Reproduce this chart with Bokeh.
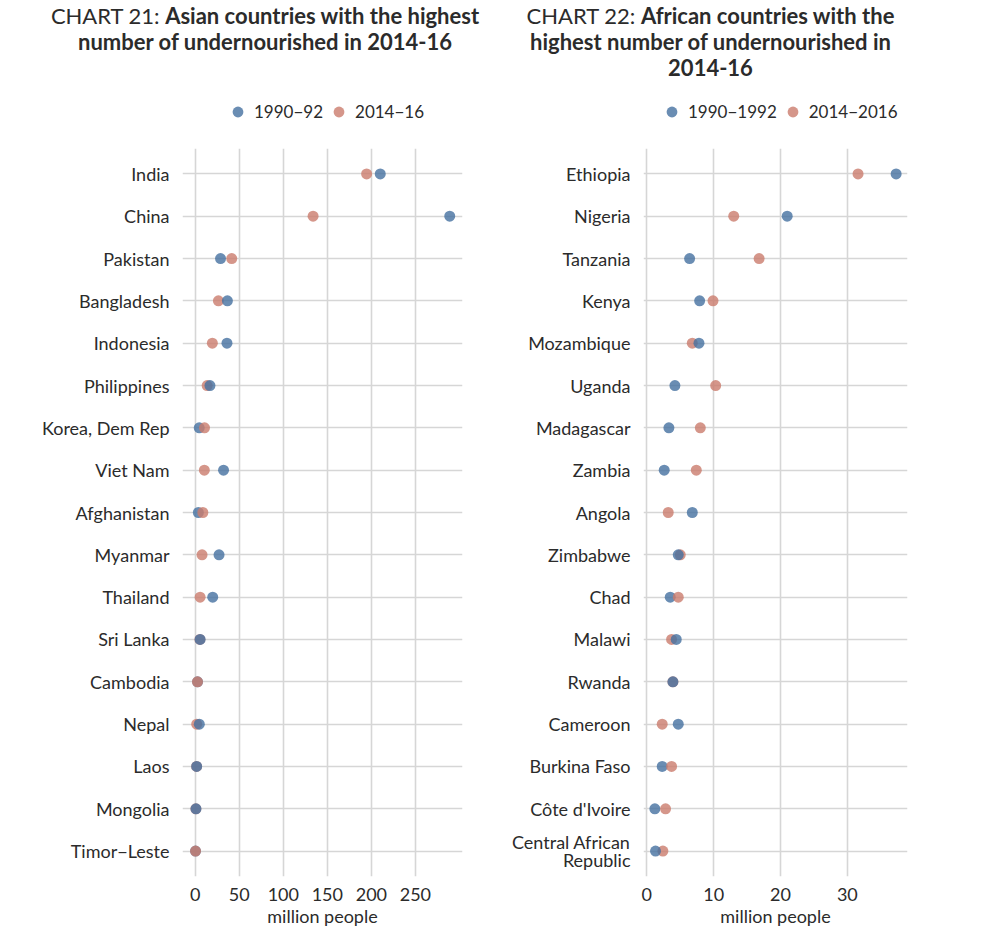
import numpy as np
from bokeh.plotting import figure
from bokeh.models import Legend, LegendItem, FactorRange, Range1d, FixedTicker, Div
from bokeh.layouts import row, column
from bokeh.embed import file_html
from bokeh.resources import INLINE

asia_countries = ["India", "China", "Pakistan", "Bangladesh", "Indonesia", "Philippines",
                  "Korea, Dem Rep", "Viet Nam", "Afghanistan", "Myanmar", "Thailand",
                  "Sri Lanka", "Cambodia", "Nepal", "Laos", "Mongolia", "Timor\u2212Leste"]
asia_1990 = [210.1, 289.0, 28.7, 36.5, 36.0, 16.7, 4.5, 32.1, 3.5, 27.0, 19.8, 5.5, 2.6, 4.6, 1.6, 0.8, 0.3]
asia_2014 = [194.6, 133.8, 41.4, 26.3, 19.4, 13.5, 10.5, 10.3, 8.6, 7.7, 5.5, 5.3, 2.5, 1.6, 1.5, 0.7, 0.3]

africa_countries = ["Ethiopia", "Nigeria", "Tanzania", "Kenya", "Mozambique", "Uganda",
                    "Madagascar", "Zambia", "Angola", "Zimbabwe", "Chad", "Malawi", "Rwanda",
                    "Cameroon", "Burkina Faso", "C\u00f4te d'Ivoire", "Central African\nRepublic"]
africa_1990 = [37.3, 21.0, 6.4, 7.9, 7.8, 4.2, 3.3, 2.6, 6.8, 4.7, 3.5, 4.4, 3.9, 4.7, 2.3, 1.2, 1.3]
africa_2016 = [31.6, 13.0, 16.8, 9.9, 6.8, 10.3, 8.0, 7.4, 3.2, 5.0, 4.7, 3.7, 3.9, 2.3, 3.7, 2.8, 2.4]

asia_ticks = [0, 50, 100, 150, 200, 250]
africa_ticks = [0, 10, 20, 30]

asia_labels = ["1990\u221292", "2014\u221216"]
africa_labels = ["1990\u22121992", "2014\u22122016"]

# draw order: countries whose earlier-period point lies on top
asia_old_on_top = ["Bangladesh", "Philippines", "Sri Lanka", "Nepal", "Laos", "Mongolia"]
africa_old_on_top = ["Mozambique", "Zimbabwe", "Malawi", "Rwanda", "Central African\nRepublic"]

BLUE = "#4570a0"
PINK = "#ca7c6d"
ALPHA = 0.8
FONT = "Lato"
TXT = "#2b2b2b"
GRID = "#d6d6d6"
FS = "18px"
LFS = "17px"


def make_title(width, reg, bold_lines, pad_left, pad_right):
    body = "CHART %s: <b>%s</b>" % (reg, bold_lines[0])
    for line in bold_lines[1:]:
        body += "<br><b>%s</b>" % line
    html = ('<div style="box-sizing:border-box;width:%dpx;padding-left:%dpx;padding-right:%dpx;'
            'margin-top:3px;text-align:center;font-family:Lato;font-size:22px;'
            'line-height:26px;color:%s;">%s</div>' % (width, pad_left, pad_right, TXT, body))
    return Div(text=html, width=width, height=85, margin=0)


def make_legend_fig(border_left, frame_w, border_right, labels, legend_x):
    h = figure(frame_width=frame_w, frame_height=63,
               min_border_left=border_left, min_border_right=border_right,
               min_border_top=0, min_border_bottom=0,
               x_range=Range1d(0, 1), y_range=Range1d(0, 1),
               x_axis_type=None, y_axis_type=None,
               output_backend="svg", toolbar_location=None)
    h.outline_line_color = None
    h.grid.visible = False
    # legend keys only (hidden renderers, the legend still draws their glyph)
    k_old = h.scatter(x=[0], y=[0], size=11, color=BLUE, alpha=ALPHA, line_alpha=0, visible=False)
    k_new = h.scatter(x=[0], y=[0], size=11, color=PINK, alpha=ALPHA, line_alpha=0, visible=False)
    legend = Legend(items=[LegendItem(label=labels[0], renderers=[k_old]),
                           LegendItem(label=labels[1], renderers=[k_new])],
                    orientation="horizontal", location=(legend_x, 23),
                    padding=0, margin=0, spacing=2,
                    glyph_width=27, glyph_height=27, label_standoff=3,
                    label_text_font=FONT, label_text_font_size=LFS,
                    label_text_color=TXT, border_line_color=None,
                    background_fill_alpha=0)
    h.add_layout(legend, "center")
    return h


def make_panel(countries, v_old, v_new, old_top, xr, ticks, border_left, frame_w, border_right):
    p = figure(y_range=FactorRange(factors=list(reversed(countries)),
                                   range_padding=0.1, range_padding_units="absolute"),
               x_range=Range1d(*xr),
               frame_width=frame_w, frame_height=728,
               min_border_left=border_left, min_border_right=border_right,
               min_border_top=0, min_border_bottom=56,
               output_backend="svg", toolbar_location=None,
               background_fill_color="white", border_fill_color="white")
    p.outline_line_color = None

    c = np.array(countries, dtype=object)
    vo = np.array(v_old)
    vn = np.array(v_new)
    top = np.array([name in old_top for name in countries])
    p.scatter(vo[~top], list(c[~top]), size=11, color=BLUE, alpha=ALPHA, line_alpha=0)
    p.scatter(vn, list(c), size=11, color=PINK, alpha=ALPHA, line_alpha=0)
    p.scatter(vo[top], list(c[top]), size=11, color=BLUE, alpha=ALPHA, line_alpha=0)

    p.xaxis.ticker = FixedTicker(ticks=ticks)
    for ax in (p.xaxis[0], p.yaxis[0]):
        ax.axis_line_color = None
        ax.major_tick_line_color = None
        ax.minor_tick_line_color = None
        ax.major_tick_in = 0
        ax.major_tick_out = 0
        ax.major_label_text_font = FONT
        ax.major_label_text_font_size = FS
        ax.major_label_text_color = TXT
    p.yaxis.major_label_standoff = 13
    p.yaxis.major_label_text_line_height = 0.8
    p.xaxis.major_label_standoff = 11
    p.xaxis.axis_label = "million people"
    p.xaxis.axis_label_text_font = FONT
    p.xaxis.axis_label_text_font_size = FS
    p.xaxis.axis_label_text_font_style = "normal"
    p.xaxis.axis_label_text_color = TXT
    p.xaxis.axis_label_standoff = 1

    p.xgrid.grid_line_color = GRID
    p.ygrid.grid_line_color = GRID
    p.xgrid.grid_line_width = 1.6
    p.ygrid.grid_line_width = 1.6
    return p


t1 = make_title(500, "21", ["Asian countries with the highest",
                            "number of undernourished in 2014-16"], 30, 0)
t2 = make_title(492, "22", ["African countries with the",
                            "highest number of undernourished in", "2014-16"], 0, 71)
h1 = make_legend_fig(182, 280, 38, asia_labels, 42)
h2 = make_legend_fig(143, 264, 85, africa_labels, 15)

p1 = make_panel(asia_countries, asia_1990, asia_2014, asia_old_on_top, (-14.5, 303.5),
                asia_ticks, 182, 280, 38)
p2 = make_panel(africa_countries, africa_1990, africa_2016, africa_old_on_top, (-0.5, 39.0),
                africa_ticks, 143, 264, 85)

layout = row(column(t1, h1, p1), column(t2, h2, p2))
open("out.html", "w").write(file_html(layout, INLINE))
